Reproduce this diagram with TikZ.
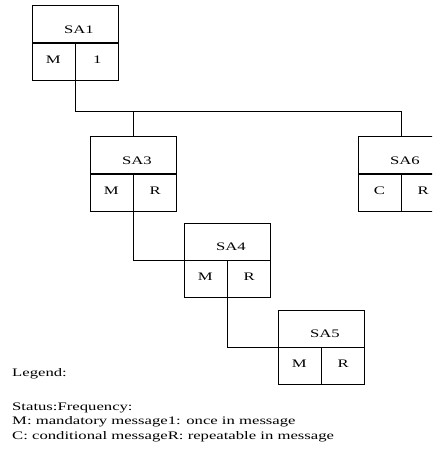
\documentclass[tikz,border=0pt]{standalone}
\usepackage{fontspec}
\setmainfont{Liberation Serif}[FakeStretch=1.45]
\usepackage{tikz}
\usetikzlibrary{positioning, calc}

\tikzset{
  sahead/.style={draw, line width=0.8pt, minimum width=86pt, minimum height=37pt,
    inner sep=0pt, text height=17.6pt, text depth=0pt, anchor=north west},
  sacell/.style={draw, line width=0.8pt, minimum width=43pt, minimum height=37pt,
    inner sep=0pt, text height=8pt, text depth=5.4pt, anchor=north west},
  legendtext/.style={inner sep=0pt, anchor=base west},
  link/.style={line width=0.8pt}
}

\begin{document}
\begin{tikzpicture}[x=1pt, y=-1pt, font=\fontsize{11.5}{14.5}\selectfont]
  \useasboundingbox (0,0) rectangle (432,454);
  \clip (0,0) rectangle (432,454);

  % SA1
  \node[sahead] (sa1) at (31.5,5.5) {\hspace*{8pt}SA1};
  \node[sacell] (sa1s) at (sa1.south west) {M};
  \node[sacell] (sa1f) at (sa1s.north east) {1};

  % SA3
  \node[sahead] (sa3) at (89.5,136.5) {\hspace*{8pt}SA3};
  \node[sacell] (sa3s) at (sa3.south west) {M};
  \node[sacell] (sa3f) at (sa3s.north east) {R};

  % SA6
  \node[sahead] (sa6) at (357.5,136.5) {\hspace*{8pt}SA6};
  \node[sacell] (sa6s) at (sa6.south west) {C};
  \node[sacell] (sa6f) at (sa6s.north east) {R};

  % SA4
  \node[sahead] (sa4) at (183.5,222.5) {\hspace*{8pt}SA4};
  \node[sacell] (sa4s) at (sa4.south west) {M};
  \node[sacell] (sa4f) at (sa4s.north east) {R};

  % SA5
  \node[sahead] (sa5) at (277.5,309.5) {\hspace*{8pt}SA5};
  \node[sacell] (sa5s) at (sa5.south west) {M};
  \node[sacell] (sa5f) at (sa5s.north east) {R};

  % Connectors
  \path (sa6.north) ++(0,-25) coordinate (bus);
  \draw[link] (sa1s.south east) |- (bus) -- (sa6.north);
  \draw[link] (sa3.north) -- (sa3.north |- bus);
  \draw[link] (sa3s.south east) |- (sa4.south west);
  \draw[link] (sa4s.south east) |- (sa5.south west);

  % Legend
  \node[legendtext] (legend) at (12,376) {Legend:};
  \node[legendtext] (status) at (12,410) {Status:Frequency:};
  \node[legendtext] (mand) at (12,424.5) {M: mandatory message1: once in message};
  \node[legendtext] (cond) at (12,439) {C: conditional messageR: repeatable in message};
\end{tikzpicture}
\end{document}
